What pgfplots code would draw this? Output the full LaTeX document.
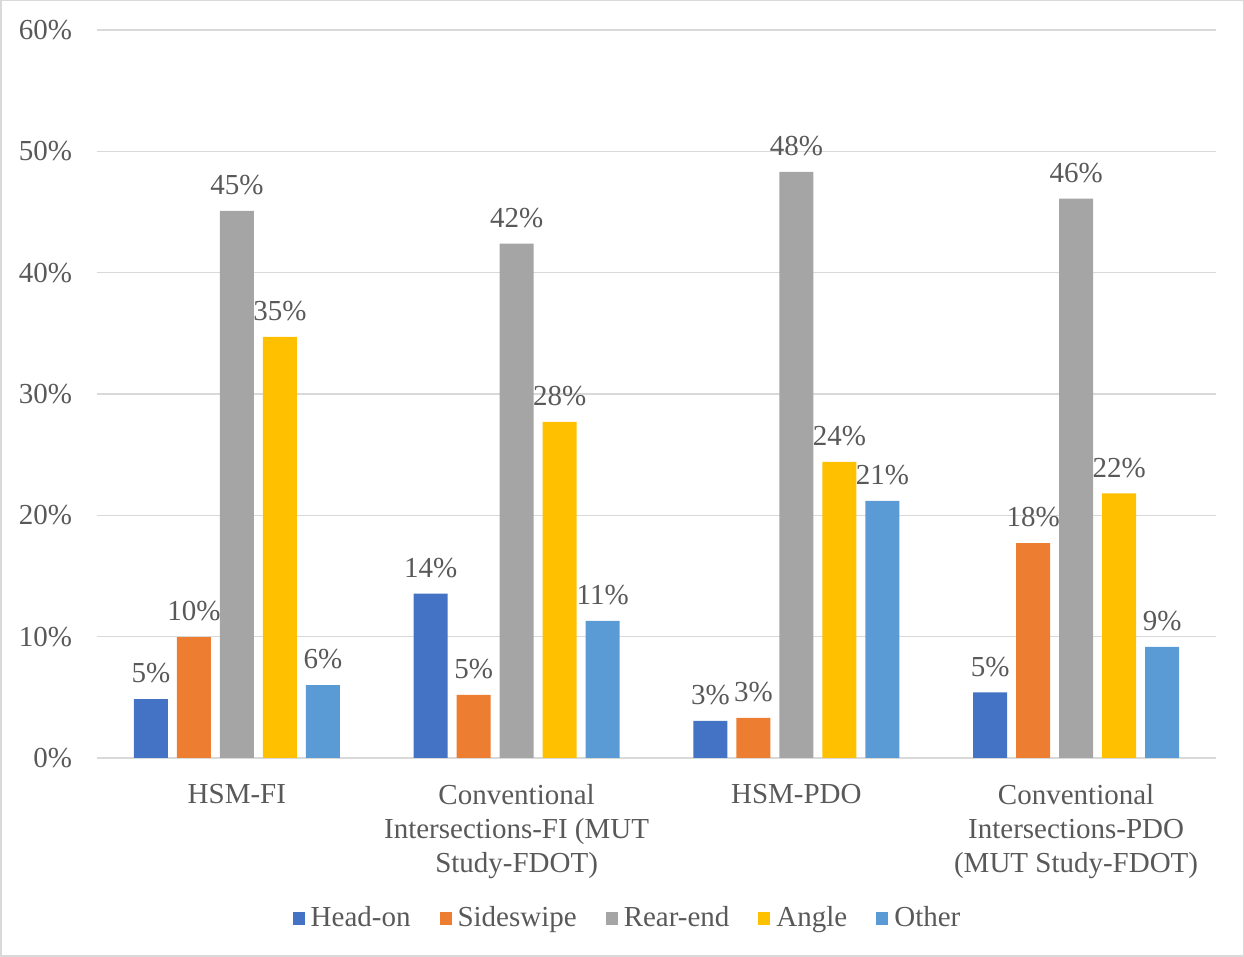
\documentclass[border=0pt]{standalone}
\usepackage{pgfplots}
\pgfplotsset{compat=1.18}
\usepackage{fontspec}
\setmainfont{Liberation Serif}
\definecolor{cHead}{HTML}{4472C4}
\definecolor{cSide}{HTML}{ED7D31}
\definecolor{cRear}{HTML}{A5A5A5}
\definecolor{cAngle}{HTML}{FFC000}
\definecolor{cOther}{HTML}{5B9BD5}
\definecolor{txt}{HTML}{595959}
\definecolor{gridc}{HTML}{D9D9D9}
\begin{document}
\begin{tikzpicture}
\draw[gridc, line width=0.75pt] (0.375pt,0.375pt) rectangle (621.625pt,478.125pt);
\begin{axis}[
  at={(48.5pt,99.5pt)}, anchor=south west,
  scale only axis, width=559.5pt, height=364pt,
  ybar=4.5pt, bar width=17pt,
  xmin=-0.5, xmax=3.5, ymin=0, ymax=60,
  xtick={0,1,2,3},
  xticklabels={HSM-FI,{Conventional\\Intersections-FI (MUT\\Study-FDOT)},HSM-PDO,{Conventional\\Intersections-PDO\\(MUT Study-FDOT)}},
  xticklabel style={align=center, font=\fontsize{14.5}{17}\selectfont, text=txt, yshift=-9.5pt},
  ytick={0,10,...,60},
  yticklabel={\pgfmathprintnumber{\tick}\%},
  yticklabel style={font=\fontsize{14.5}{17}\selectfont, text=txt, xshift=-9pt},
  /pgf/number format/assume math mode=true,
  major tick length=0pt,
  axis line style={draw=none},
  ymajorgrids, grid style={gridc, line width=0.75pt},
  nodes near coords={\pgfmathprintnumber[fixed,precision=0]{\pgfplotspointmeta}\%},
  nodes near coords style={font=\fontsize{14.5}{17}\selectfont, text=txt, yshift=4.5pt},
  legend columns=5,
  legend style={at={(0.475,-0.22)}, anchor=center, draw=none, fill=none,
    font=\fontsize{14.5}{17}\selectfont, text=txt,
    /tikz/every even column/.append style={column sep=12.5pt},
    /tikz/every odd column/.append style={column sep=1pt}},
  legend image code/.code={\fill[#1] (0pt,-3.2pt) rectangle (6pt,3.2pt);},
]
\addplot[draw=none, fill=cHead] coordinates {(0,4.86) (1,13.55) (2,3.05) (3,5.4)};
\addplot[draw=none, fill=cSide] coordinates {(0,9.97) (1,5.2) (2,3.3) (3,17.7)};
\addplot[draw=none, fill=cRear] coordinates {(0,45.1) (1,42.4) (2,48.3) (3,46.1)};
\addplot[draw=none, fill=cAngle] coordinates {(0,34.7) (1,27.7) (2,24.4) (3,21.8)};
\addplot[draw=none, fill=cOther] coordinates {(0,6.0) (1,11.3) (2,21.2) (3,9.15)};
\legend{Head-on,Sideswipe,Rear-end,Angle,Other}
\end{axis}
\end{tikzpicture}
\end{document}
